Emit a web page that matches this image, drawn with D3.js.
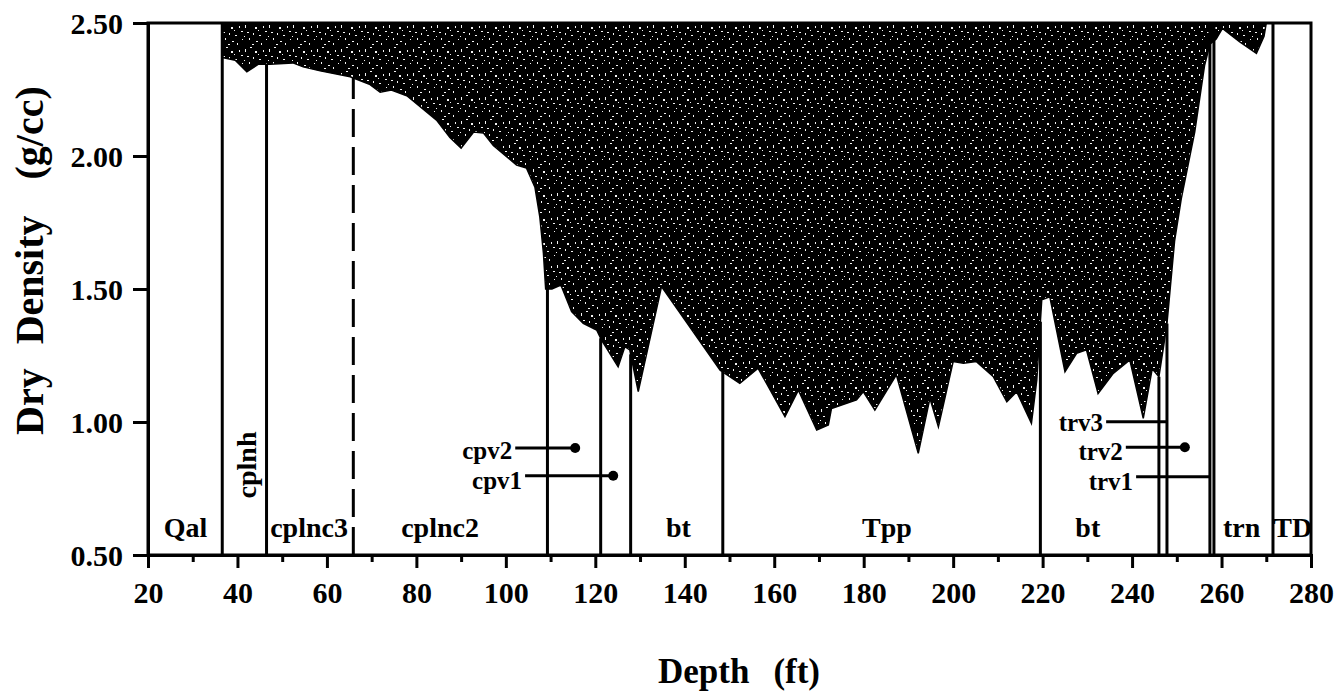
<!DOCTYPE html>
<html>
<head>
<meta charset="utf-8">
<script src="https://cdn.jsdelivr.net/npm/d3@7"></script>
<style>
  body { margin: 0; background: #fff; }
  svg text { font-family: "Liberation Serif", "Times New Roman", serif; font-weight: bold; fill: #000; }
</style>
</head>
<body>
<div id="chart"></div>
<script>
// dry density log
var depthFt = [36.6, 39.5, 42.1, 44.7, 47.3, 52.4, 54.7, 58.5, 65.2, 69.5, 71.9, 74.4, 78.0, 84.5, 87.5,
  90.0, 92.8, 95.0, 97.2, 102.4, 104.6, 106.5, 107.6, 108.4, 108.9, 110.3, 112.3, 114.7, 117.3, 120.3,
  121.4, 125.1, 126.6, 127.7, 129.6, 134.8, 147.9, 152.3, 156.4, 162.4, 165.4, 169.5, 172.1, 172.8, 178.4,
  179.9, 182.5, 187.3, 192.2, 194.8, 196.7, 200.0, 202.3, 205.2, 209.0, 212.0, 214.2, 217.5, 218.7, 219.8,
  221.6, 225.0, 227.6, 229.8, 232.4, 235.8, 239.5, 242.5, 244.5, 246.0, 247.0, 247.8, 249.5, 251.0, 254.0,
  256.2, 257.4, 258.8, 260.2, 264.0, 267.8, 269.5, 270.0];
var dryDensity = [2.37, 2.36, 2.317, 2.345, 2.345, 2.35, 2.335, 2.32, 2.298, 2.27, 2.24, 2.248, 2.225, 2.135, 2.07,
  2.03, 2.09, 2.086, 2.04, 1.966, 1.955, 1.883, 1.77, 1.635, 1.50, 1.50, 1.515, 1.415, 1.371, 1.346,
  1.308, 1.208, 1.283, 1.271, 1.114, 1.509, 1.195, 1.145, 1.202, 1.020, 1.120, 0.970, 0.989, 1.051, 1.083,
  1.114, 1.045, 1.177, 0.882, 1.089, 0.982, 1.227, 1.221, 1.227, 1.170, 1.076, 1.114, 0.995, 1.158, 1.459,
  1.471, 1.189, 1.258, 1.271, 1.107, 1.183, 1.233, 1.014, 1.20, 1.17, 1.28, 1.37, 1.68, 1.84, 2.09,
  2.34, 2.42, 2.44, 2.48, 2.43, 2.386, 2.45, 2.50];

// unit contacts
var contactDepths = [36.6, 46.5, 109.3, 121.2, 127.9, 148.5, 219.5, 246.0, 247.8, 257.4, 258.3, 271.5];
var dashedContacts = [65.9];

var unitNames = ["Qal", "cplnc3", "cplnc2", "bt", "Tpp", "bt", "trn", "TD"];
var unitCenters = [28.4, 56.0, 85.3, 138.6, 185.2, 230.1, 264.5, 275.9];
var rotatedUnit = "cplnh";
var rotatedUnitDepth = 41.9;

// sample callouts
var sampleNames = ["cpv2", "cpv1", "trv3", "trv2", "trv1"];
var sampleDepths = [115.5, 124.0, 247.6, 251.8, 257.6];
var sampleDensity = [0.902, 0.798, 1.001, 0.905, 0.794];
var sampleLabelDepths = [102.1, 104.3, 234.2, 238.6, 240.9];
var sampleHasDot = [true, true, false, true, false];
// baseline shift of each callout label below its leader (px)
var sampleLabelNudge = [11, 13, 9, 13, 13];

var xTicks = [20, 40, 60, 80, 100, 120, 140, 160, 180, 200, 220, 240, 260, 280];
var xMinorTicks = [30, 50, 70, 90, 110, 130, 150, 170, 190, 210, 230, 250, 270];
var yTicks = [0.5, 1.0, 1.5, 2.0, 2.5];

var margin = {top: 23, right: 32, bottom: 144, left: 148},
    width = 1343 - margin.left - margin.right,
    height = 699 - margin.top - margin.bottom;

var svg = d3.select("#chart").append("svg")
    .attr("width", 1343)
    .attr("height", 699);

// speckled black fill
var pat = svg.append("defs").append("pattern")
    .attr("id", "speckle")
    .attr("patternUnits", "userSpaceOnUse")
    .attr("width", 24).attr("height", 24);
pat.append("rect").attr("width", 24).attr("height", 24).attr("fill", "#000");
[[1,2,1,3],[6,0,2,1],[11,4,2,2],[3,9,2,1],[9,10,1,2],[15,12,2,1],[5,15,1,2],[12,18,2,1],
 [0,13,1,1],[19,3,1,2],[21,8,2,1],[17,20,1,2],[8,21,2,1],[22,16,1,1],[14,7,1,1]]
  .forEach(function(s) {
    pat.append("rect").attr("x", s[0]).attr("y", s[1]).attr("width", s[2]).attr("height", s[3])
      .attr("fill", "#f4f4f4");
  });

var g = svg.append("g")
    .attr("transform", "translate(" + margin.left + "," + margin.top + ")");

var x = d3.scaleLinear().domain([20, 280]).range([0, width]);
var y = d3.scaleLinear().domain([0.5, 2.5]).range([height, 0]);

var pts = depthFt.map(function(d, i) { return [d, dryDensity[i]]; });

var area = d3.area()
    .x(function(d) { return x(d[0]); })
    .y0(y(2.5))
    .y1(function(d) { return y(d[1]); });

g.append("path")
    .datum(pts)
    .attr("d", area)
    .attr("fill", "url(#speckle)")
    .attr("stroke", "#000")
    .attr("stroke-width", 1.5);

// density at a depth, for where contacts meet the curve
var bis = d3.bisector(function(d) { return d; }).left;
function curveAt(dep) {
  if (dep <= depthFt[0] || dep >= depthFt[depthFt.length - 1]) return 2.5;
  var i = bis(depthFt, dep);
  var t = (dep - depthFt[i - 1]) / (depthFt[i] - depthFt[i - 1]);
  return dryDensity[i - 1] + t * (dryDensity[i] - dryDensity[i - 1]);
}

g.selectAll(".contact")
  .data(contactDepths)
  .enter().append("line")
    .attr("class", "contact")
    .attr("x1", function(d) { return x(d); })
    .attr("x2", function(d) { return x(d); })
    .attr("y1", y(0.5))
    .attr("y2", function(d) { return y(d < 40 || d > 257 ? 2.5 : curveAt(d)); })
    .attr("stroke", "#000")
    .attr("stroke-width", 3);

g.selectAll(".dashed")
  .data(dashedContacts)
  .enter().append("line")
    .attr("x1", function(d) { return x(d); })
    .attr("x2", function(d) { return x(d); })
    .attr("y1", y(0.5))
    .attr("y2", function(d) { return y(curveAt(d)); })
    .attr("stroke", "#000")
    .attr("stroke-width", 3)
    .style("stroke-dasharray", "28,10");

// frame
g.append("rect")
    .attr("width", width)
    .attr("height", height)
    .attr("fill", "none")
    .attr("stroke", "#000")
    .attr("stroke-width", 3);

// axes
var yAxis = g.append("g")
    .call(d3.axisLeft(y).tickValues(yTicks).tickFormat(d3.format(".2f")).tickSize(15).tickPadding(10));
yAxis.selectAll("text").style("font-size", "30px").attr("dy", "0.34em");

var xAxis = g.append("g")
    .attr("transform", "translate(0," + height + ")")
    .call(d3.axisBottom(x).tickValues(xTicks).tickSize(13).tickPadding(14));
xAxis.selectAll("text").style("font-size", "30px");

var xMinor = g.append("g")
    .attr("transform", "translate(0," + height + ")")
    .call(d3.axisBottom(x).tickValues(xMinorTicks).tickSize(7).tickFormat(""));
xMinor.select(".domain").remove();

[yAxis, xAxis, xMinor].forEach(function(a) {
  a.selectAll(".domain").attr("stroke-width", 3);
  a.selectAll(".tick line").attr("stroke-width", 3);
});

// unit labels
g.selectAll(".unit")
  .data(unitNames)
  .enter().append("text")
    .attr("class", "unit")
    .attr("x", function(d, i) { return x(unitCenters[i]); })
    .attr("y", height - 18)
    .style("text-anchor", "middle")
    .style("font-size", "28px")
    .text(function(d) { return d; });

g.append("text")
    .attr("transform", "translate(" + (x(rotatedUnitDepth) + 10) + "," + (height - 90) + ") rotate(-90)")
    .style("text-anchor", "middle")
    .style("font-size", "28px")
    .text(rotatedUnit);

// sample callouts
var samples = sampleNames.map(function(n, i) {
  return {name: n, dep: sampleDepths[i], den: sampleDensity[i], lab: sampleLabelDepths[i],
          dot: sampleHasDot[i], nudge: sampleLabelNudge[i]};
});

g.selectAll(".leader")
  .data(samples)
  .enter().append("line")
    .attr("x1", function(d) { return x(d.lab); })
    .attr("x2", function(d) { return x(d.dep); })
    .attr("y1", function(d) { return y(d.den); })
    .attr("y2", function(d) { return y(d.den); })
    .attr("stroke", "#000")
    .attr("stroke-width", 3);

g.selectAll(".dot")
  .data(samples.filter(function(d) { return d.dot; }))
  .enter().append("circle")
    .attr("cx", function(d) { return x(d.dep); })
    .attr("cy", function(d) { return y(d.den); })
    .attr("r", 5)
    .attr("fill", "#000");

g.selectAll(".sample")
  .data(samples)
  .enter().append("text")
    .attr("x", function(d) { return x(d.lab) - 3; })
    .attr("y", function(d) { return y(d.den) + d.nudge; })
    .style("text-anchor", "end")
    .style("font-size", "25px")
    .text(function(d) { return d.name; });

// axis titles
var xt = svg.append("text")
    .attr("x", 739)
    .attr("y", 683)
    .style("text-anchor", "middle")
    .style("font-size", "35px");
xt.append("tspan").text("Depth");
xt.append("tspan").attr("dx", 24).text("(ft)");

var yt = svg.append("text")
    .attr("transform", "translate(43,435) rotate(-90)")
    .style("text-anchor", "start")
    .style("font-size", "40px");
yt.append("tspan").text("Dry");
yt.append("tspan").attr("dx", 24).text("Density");
yt.append("tspan").attr("dx", 36).text("(g/cc)");
</script>
</body>
</html>
